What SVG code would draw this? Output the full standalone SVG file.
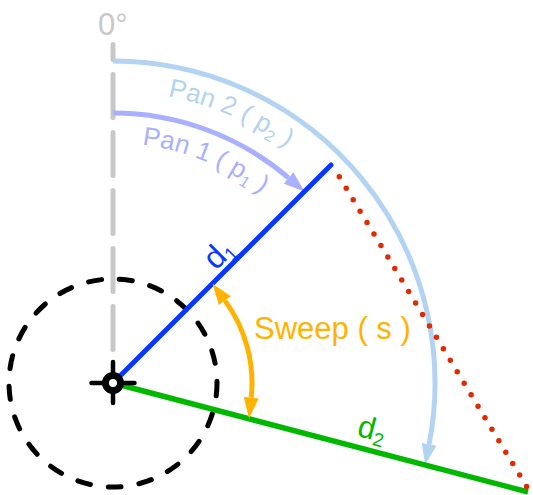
<svg xmlns="http://www.w3.org/2000/svg" width="533" height="495" viewBox="0 0 533 495">
<style>
text{font-family:"Liberation Sans",Arial,sans-serif}
.arc{fill:none;stroke-width:5}
</style>
<defs>
<marker id="ahP2" markerUnits="userSpaceOnUse" markerWidth="21" markerHeight="15" refX="0" refY="7.5" orient="auto" viewBox="0 0 21 15"><path d="M0,0 L21,7.5 L0,15 z" fill="#b3d3f2"/></marker>
<marker id="ahP1" markerUnits="userSpaceOnUse" markerWidth="21" markerHeight="15" refX="0" refY="7.5" orient="auto" viewBox="0 0 21 15"><path d="M0,0 L21,7.5 L0,15 z" fill="#a9b0ff"/></marker>
<marker id="ahS" markerUnits="userSpaceOnUse" markerWidth="21" markerHeight="15" refX="0" refY="7.5" orient="auto-start-reverse" viewBox="0 0 21 15"><path d="M0,0 L21,7.5 L0,15 z" fill="#ffb300"/></marker>
<path id="tp2" d="M113,91 A292,292 0 0 1 405,383"/>
<path id="tp1" d="M113,143 A240,240 0 0 1 353,383"/>
</defs>

<g id="range-circle">
<circle cx="113" cy="383" r="104" fill="none" stroke="#000" stroke-width="5" stroke-dasharray="13 18" stroke-linecap="round"/>
</g>

<g id="zero-axis">
<line x1="113" y1="349.5" x2="113" y2="44.5" stroke="#c8c8c8" stroke-width="5" stroke-dasharray="43 15" stroke-linecap="round"/>
<text x="98" y="35" font-size="31" fill="#c8c8c8">0°</text>
</g>

<g id="connectors">
<path id="pan2-arc" class="arc" stroke="#b3d3f2" d="M113,61 A322,322 0 0 1 429.13,444.22" marker-end="url(#ahP2)"/>
<path id="pan1-arc" class="arc" stroke="#a9b0ff" d="M113,113 A270,270 0 0 1 288.54,177.85" marker-end="url(#ahP1)"/>
<line id="d1-line" x1="113" y1="383" x2="331" y2="165" stroke="#0a37ff" stroke-width="5" stroke-linecap="round"/>
<line id="d2-line" x1="113" y1="383" x2="528" y2="492" stroke="#00b800" stroke-width="5.5"/>
<line id="chord" x1="339.3" y1="176.7" x2="527" y2="487.2" stroke="#e02a00" stroke-width="5.5" stroke-dasharray="0 13.41" stroke-linecap="round"/>
<path id="sweep-arc" class="arc" stroke="#ffb300" d="M224.95,300.61 A139,139 0 0 1 251.23,397.64" marker-start="url(#ahS)" marker-end="url(#ahS)"/>
</g>

<g id="pan2-label">
<text font-size="26" fill="#b3d3f2"><textPath href="#tp2" startOffset="55">Pan 2 ( p<tspan font-size="16" dy="5">2</tspan><tspan dy="-5"> )</tspan></textPath></text>
</g>
<g id="pan1-label">
<text font-size="26" fill="#a9b0ff"><textPath href="#tp1" startOffset="29">Pan 1 ( p<tspan font-size="16" dy="5">1</tspan><tspan dy="-5"> )</tspan></textPath></text>
</g>

<g id="d1-label">
<text transform="translate(216,271) rotate(-45)" font-size="32" fill="#0a37ff">d<tspan font-size="19" dy="5">1</tspan></text>
</g>
<g id="d2-label">
<text transform="translate(356,435.5) rotate(14.72)" font-size="31" fill="#00b800">d<tspan font-size="19" dy="5">2</tspan></text>
</g>
<g id="sweep-label">
<text x="254" y="339" font-size="31" fill="#ffb300">Sweep ( s )</text>
</g>

<g id="origin">
<line x1="91.5" y1="383" x2="134.5" y2="383" stroke="#000" stroke-width="4.5" stroke-linecap="round"/>
<line x1="113" y1="362" x2="113" y2="403" stroke="#000" stroke-width="4.5" stroke-linecap="round"/>
<circle cx="113" cy="383" r="7.5" fill="#fff" stroke="#000" stroke-width="7"/>
</g>
</svg>
